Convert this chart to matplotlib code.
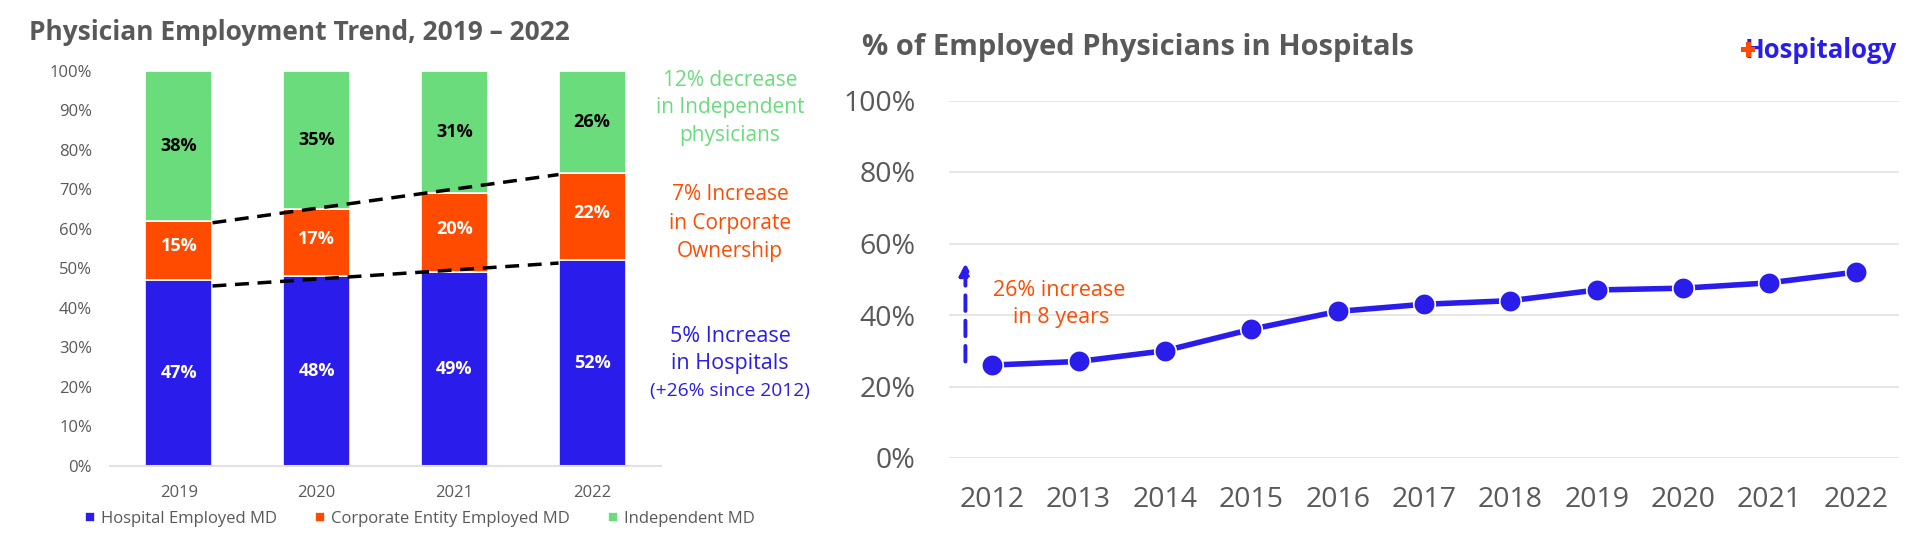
import matplotlib
matplotlib.use("Agg")
import matplotlib.pyplot as plt
from matplotlib.patches import Rectangle
import numpy as np

plt.rcParams['font.family'] = ['Open Sans', 'DejaVu Sans']

# ---------------- data ----------------
bar_years = ["2019", "2020", "2021", "2022"]
hospital_md = [47, 48, 49, 52]
corporate_md = [15, 17, 20, 22]
independent_md = [38, 35, 31, 26]

line_years = ["2012", "2013", "2014", "2015", "2016", "2017",
              "2018", "2019", "2020", "2021", "2022"]
hospital_share = [26, 27, 30, 36, 41, 43, 44, 47, 47.5, 49, 52]

left_yticks = [0, 10, 20, 30, 40, 50, 60, 70, 80, 90, 100]
right_yticks = [0, 20, 40, 60, 80, 100]

BLUE = "#2A1DEB"
ORANGE = "#FF4B00"
GREEN = "#6ADC7C"
GRAY = "#595959"
GRID = "#E2E2E2"

W, H = 1920, 548
fig = plt.figure(figsize=(W / 100, H / 100), dpi=100)

# ---------------- left stacked bar chart ----------------
axL = fig.add_axes([110 / W, 1 - 465.7 / H, (661 - 110) / W, (465.7 - 70.7) / H])
x = np.arange(len(bar_years))
bw = 0.488
b1 = axL.bar(x, hospital_md, bw, color=BLUE, edgecolor="white", linewidth=1.2,
             label="Hospital Employed MD")
b2 = axL.bar(x, corporate_md, bw, bottom=hospital_md, color=ORANGE, edgecolor="white",
             linewidth=1.2, label="Corporate Entity Employed MD")
bottom3 = [a + b for a, b in zip(hospital_md, corporate_md)]
b3 = axL.bar(x, independent_md, bw, bottom=bottom3, color=GREEN, edgecolor="white",
             linewidth=1.2, label="Independent MD")

for i in range(len(bar_years)):
    axL.text(x[i], hospital_md[i] / 2, f"{hospital_md[i]}%", ha="center", va="center",
             color="white", fontsize=13, fontweight="bold")
    axL.text(x[i], hospital_md[i] + corporate_md[i] / 2 + 1, f"{corporate_md[i]}%",
             ha="center", va="center", color="white", fontsize=13, fontweight="bold")
    axL.text(x[i], bottom3[i] + independent_md[i] / 2, f"{independent_md[i]}%",
             ha="center", va="center", color="black", fontsize=13, fontweight="bold")

# dashed trend lines between bars
axL.plot([x[0] + bw / 2, x[-1] - bw / 2], [hospital_md[0] - 1.5, hospital_md[-1] - 0.7],
         color="black", lw=2.5, ls=(0, (4, 2.5)), zorder=5)
axL.plot([x[0] + bw / 2, x[-1] - bw / 2], [bottom3[0] - 0.5, bottom3[-1] - 0.3],
         color="black", lw=2.5, ls=(0, (4, 2.5)), zorder=5)

axL.set_xlim(-0.5, 3.5)
axL.set_ylim(0, 100)
axL.set_yticks(left_yticks)
axL.set_yticklabels([f"{v}%" for v in left_yticks])
axL.set_xticks(x)
axL.set_xticklabels(bar_years)
axL.tick_params(axis="y", length=0, pad=13, labelsize=12, labelcolor=GRAY)
axL.tick_params(axis="x", length=0, pad=14, labelsize=12, labelcolor=GRAY)
for s in ["top", "right", "left"]:
    axL.spines[s].set_visible(False)
axL.spines["bottom"].set_color(GRID)
axL.spines["bottom"].set_linewidth(1.5)

leg = fig.legend(handles=[b1, b2, b3], loc="center", bbox_to_anchor=(420 / W, 1 - 519 / H),
                 ncol=3, frameon=False, fontsize=12, handlelength=0.6, handleheight=0.6,
                 handletextpad=0.35, columnspacing=2.3)
for t in leg.get_texts():
    t.set_color(GRAY)

fig.text(29 / W, 1 - 33 / H, "Physician Employment Trend, 2019 – 2022", fontsize=19,
         fontweight="bold", color=GRAY, ha="left", va="center")

# side annotations
cx = 730 / W
for txt, yy, col, fs in [
    ("12% decrease", 80, GREEN, 15), ("in Independent", 108, GREEN, 15),
    ("physicians", 136, GREEN, 15),
    ("7% Increase", 195, ORANGE, 15), ("in Corporate", 223, ORANGE, 15),
    ("Ownership", 252, ORANGE, 15),
    ("5% Increase", 336, BLUE, 15.5), ("in Hospitals", 364, BLUE, 15.5),
    ("(+26% since 2012)", 391, BLUE, 13.8)]:
    fig.text(cx, 1 - yy / H, txt, color=col, fontsize=fs, ha="center", va="center")

# ---------------- right line chart ----------------
axR = fig.add_axes([949 / W, 1 - 458 / H, (1899 - 949) / W, (458 - 100.5) / H])
xl = np.arange(len(line_years))
axR.plot(xl, hospital_share, color=BLUE, lw=4, marker="o", ms=15.5,
         markeredgecolor="white", markeredgewidth=1.2, zorder=4)
axR.set_xlim(-0.5, len(line_years) - 0.5)
axR.set_ylim(0, 100)
axR.set_yticks(right_yticks)
axR.set_yticklabels([f"{v}%" for v in right_yticks])
axR.set_xticks(xl)
axR.set_xticklabels(line_years)
axR.yaxis.grid(True, color=GRID, lw=1.2)
axR.set_axisbelow(True)
axR.tick_params(axis="y", length=0, pad=24, labelsize=20.5, labelcolor=GRAY)
axR.tick_params(axis="x", length=0, pad=20, labelsize=20.5, labelcolor=GRAY)
for s in axR.spines.values():
    s.set_visible(False)

# dashed arrow annotation
axR.annotate("", xy=(-0.31, 54.5), xytext=(-0.31, hospital_share[0] + 1),
             arrowprops=dict(arrowstyle="-|>,head_width=0.35,head_length=0.7",
                             color=BLUE, lw=2.8, ls=(0, (4, 2.5)),
                             shrinkA=0, shrinkB=0))
fig.text(1059 / W, 1 - 290 / H, "26% increase", color=ORANGE, fontsize=15.5,
         ha="center", va="center")
fig.text(1061 / W, 1 - 317 / H, "in 8 years", color=ORANGE, fontsize=15.5,
         ha="center", va="center")

fig.text(862 / W, 1 - 47 / H, "% of Employed Physicians in Hospitals", fontsize=21,
         fontweight="bold", color=GRAY, ha="left", va="center")

# logo
fig.text(1897 / W, 1 - 51 / H, "Hospitalogy", fontsize=18.5, fontweight="bold",
         color=BLUE, ha="right", va="center")
# orange cross drawn over the left stem of the "H"
fig.add_artist(Rectangle((1741 / W, 1 - 52 / H), 14 / W, 5 / H, transform=fig.transFigure,
                         facecolor=ORANGE, edgecolor="none", zorder=10))
fig.add_artist(Rectangle((1745.5 / W, 1 - 57 / H), 5 / W, 15 / H, transform=fig.transFigure,
                         facecolor=ORANGE, edgecolor="none", zorder=10))

fig.savefig("out.png", dpi=100, facecolor="white")
